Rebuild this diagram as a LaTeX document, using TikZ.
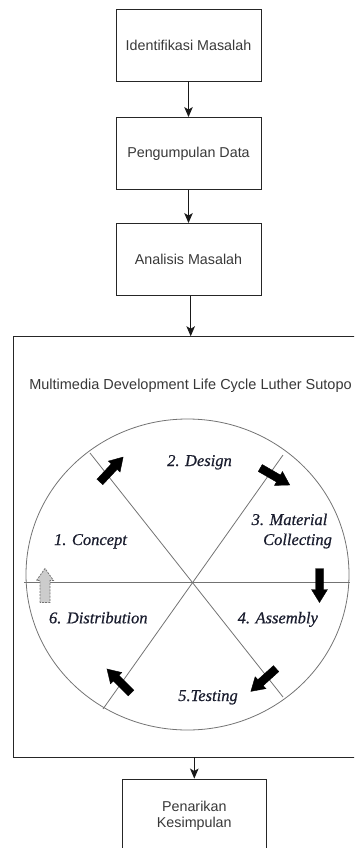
\documentclass[tikz,border=0pt]{standalone}
\usepackage{fontspec}
\setmainfont{Liberation Serif}
\setsansfont{Liberation Sans}
\newfontfamily\phasefont[ItalicFeatures={FakeBold=0.6}]{Liberation Serif}
\usetikzlibrary{arrows.meta}
\definecolor{phasetext}{HTML}{1A1D2E}
\begin{document}
\begin{tikzpicture}[x=1pt,y=-1pt,
  box/.style={draw=black!85, line width=0.9pt, minimum width=145pt, minimum height=72pt,
    font=\sffamily\fontsize{14.3}{16}\selectfont, text=black!78, align=center, inner sep=0pt},
  frame/.style={draw=black!85, line width=0.9pt, inner sep=0pt},
  ttlstyle/.style={font=\sffamily\fontsize{14.5}{16}\selectfont, text=black!78, anchor=base, inner sep=0pt},
  flow/.style={-{Stealth[length=10pt,width=8.5pt,inset=2.5pt]}, line width=0.9pt, draw=black!90},
  phase/.style={font=\phasefont\itshape\fontsize{16.5}{18}\selectfont, text=phasetext, anchor=base, inner sep=0pt},
  spoke/.style={draw=black!55, line width=0.8pt},
  blockarr/.style={fill=black, draw=black, line width=0.4pt},
  ghostarr/.style={fill=black!20, draw=black!55, dash pattern=on 2pt off 1.2pt, line width=0.8pt},
  blk/.pic={\path[pic actions] (-17,-4) -- (4,-4) -- (4,-8) -- (17,0) -- (4,8) -- (4,4) -- (-17,4) -- cycle;},
  ghost/.pic={\path[pic actions] (-17,-5) -- (5,-5) -- (5,-8.5) -- (17,0) -- (5,8.5) -- (5,5) -- (-17,5) -- cycle;}
]
\useasboundingbox (0,0) rectangle (354,848);
\clip (0,0) rectangle (354,848);

% flow boxes
\node[box] (ident) at (188.5,45) {Identifikasi Masalah};
\node[box] (data) at (188.5,153.5) {Pengumpulan Data};
\node[box] (anal) at (188.5,259.5) {Analisis Masalah};
\node[frame, minimum width=342.7pt, minimum height=420.3pt] (mdlc) at (184.65,546.85) {};
\node[ttlstyle] (ttl) at (190.5,389) {Multimedia Development Life Cycle Luther Sutopo};
\node[box, minimum width=144.7pt, minimum height=73pt] (kes) at (194.3,815.5) {Penarikan\\Kesimpulan};

% connectors
\draw[flow] (ident) -- (data);
\draw[flow] (data) -- (anal);
\draw[flow] ([xshift=2.2pt]anal.south) -- ([xshift=2.2pt]anal.south |- mdlc.north);
\draw[flow] (mdlc.south -| kes.north) -- (kes.north);

% cycle figure
\draw[spoke] (187.5,574.5) ellipse [x radius=161.5pt, y radius=155.5pt];
\coordinate (s1a) at (90,453);
\coordinate (s1b) at (283,697);
\coordinate (s2a) at (283,455);
\coordinate (s2b) at (103,709);
\coordinate (s3a) at (24,582);
\coordinate (s3b) at (350,582);
\draw[spoke] (s1a) -- (s1b);
\draw[spoke] (s2a) -- (s2b);
\draw[spoke] (s3a) -- (s3b);

% block arrows
\pic[blockarr, rotate=47] (a1) at (111.5,469.5) {blk};
\pic[blockarr, rotate=-30] (a2) at (275,476.5) {blk};
\pic[blockarr, rotate=-90] (a3) at (319.5,585.5) {blk};
\pic[blockarr, rotate=222] (a4) at (263.5,680) {blk};
\pic[blockarr, rotate=135] (a5) at (119,681) {blk};
\pic[ghostarr, rotate=90] (a6) at (45,585.5) {ghost};

% phase labels
\node[phase] (p2) at (199.5,466) {2. Design};
\node[phase] (p1) at (90.5,545) {1. Concept};
\node[phase] (p3a) at (289.5,525) {3. Material};
\node[phase] (p3b) at (297.5,545) {Collecting};
\node[phase] (p6) at (98.3,623.3) {6. Distribution};
\node[phase] (p4) at (277.8,623.3) {4. Assembly};
\node[phase] (p5) at (208,701) {5.Testing};
\end{tikzpicture}
\end{document}
